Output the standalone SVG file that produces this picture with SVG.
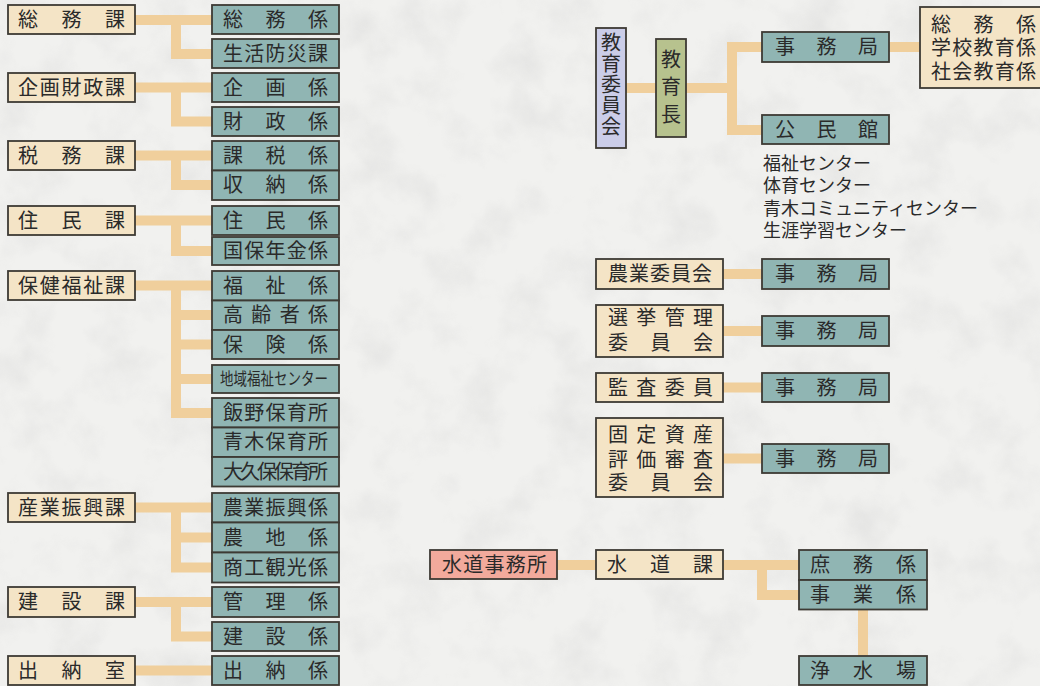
<svg xmlns="http://www.w3.org/2000/svg" width="1040" height="686" viewBox="0 0 1040 686">
<style>
.bg{fill:#f1f1ef}
.bx{stroke:#3d3a34;stroke-width:1.8}
.cr{fill:#f4e4c6}
.tl{fill:#90b5b3}
.lv{fill:#cbcde8}
.ol{fill:#b7c28e}
.pk{fill:#f2aa9c}
.cn{fill:none;stroke:#f0cf9c;stroke-width:10;stroke-linecap:butt;stroke-linejoin:miter}
text{font-family:"Noto Sans CJK JP","Noto Sans CJK SC",sans-serif;font-size:20px;fill:#2a2a2a}
.sm{font-size:17px}
.pl{font-size:18px}
.vt{writing-mode:vertical-rl}
</style>
<defs>
<filter id="marble" x="0" y="0" width="100%" height="100%">
<feTurbulence type="fractalNoise" baseFrequency="0.02" numOctaves="4" seed="7"/>
<feColorMatrix type="matrix" values="0 0 0 0 0.6  0 0 0 0 0.6  0 0 0 0 0.6  1.1 0 0 0 -0.5"/>
</filter>
</defs>
<rect class="bg" x="0" y="0" width="1040" height="686"/>
<rect x="0" y="0" width="1040" height="686" filter="url(#marble)" opacity="0.6"/>

<g id="connectors">
<path class="cn" d="M135 20H212M176 20V54H212"/>
<path class="cn" d="M135 87.5H212M176 87.5V121.5H212"/>
<path class="cn" d="M135 155.5H212M176 155.5V185H212"/>
<path class="cn" d="M135 220.5H212M176 220.5V251H212"/>
<path class="cn" d="M135 285.5H212M176 285.5V413H212M176 315H212M176 344.5H212M176 379H212"/>
<path class="cn" d="M135 507.5H212M176 507.5V567.5H212M176 537.5H212"/>
<path class="cn" d="M135 602H212M176 602V636.5H212"/>
<path class="cn" d="M135 670.5H212"/>
<path class="cn" d="M626 88H656M686 88H732M732 47V130M727 47H762M727 130H762"/>
<path class="cn" d="M889 47H920"/>
<path class="cn" d="M723 274H762"/>
<path class="cn" d="M723 331H762"/>
<path class="cn" d="M723 387.5H762"/>
<path class="cn" d="M723 458.5H762"/>
<path class="cn" d="M557 565H596"/>
<path class="cn" d="M723 565H799M762 565V595H799"/>
<path class="cn" d="M863 609V656"/>
</g>

<g id="n-somuka"><rect class="bx cr" x="8" y="5" width="127" height="29"/><text x="18" y="26.5" textLength="107" lengthAdjust="spacing">総務課</text></g>
<g id="n-somugakari"><rect class="bx tl" x="212" y="5" width="127" height="29"/><text x="223" y="26.5" textLength="105" lengthAdjust="spacing">総務係</text></g>
<g id="n-seikatsu"><rect class="bx tl" x="212" y="39" width="127" height="29"/><text x="223" y="60.5" textLength="105" lengthAdjust="spacing">生活防災課</text></g>

<g id="n-kikaku"><rect class="bx cr" x="8" y="73" width="127" height="29"/><text x="18" y="94.5" textLength="107" lengthAdjust="spacing">企画財政課</text></g>
<g id="n-kikakugakari"><rect class="bx tl" x="212" y="73" width="127" height="29"/><text x="223" y="94.5" textLength="105" lengthAdjust="spacing">企画係</text></g>
<g id="n-zaisei"><rect class="bx tl" x="212" y="107" width="127" height="29"/><text x="223" y="128.5" textLength="105" lengthAdjust="spacing">財政係</text></g>

<g id="n-zeimu"><rect class="bx cr" x="8" y="141" width="127" height="29"/><text x="18" y="162.5" textLength="107" lengthAdjust="spacing">税務課</text></g>
<g id="n-kazei"><rect class="bx tl" x="212" y="141" width="127" height="29.5"/><text x="223" y="162.5" textLength="105" lengthAdjust="spacing">課税係</text></g>
<g id="n-shuno"><rect class="bx tl" x="212" y="170.5" width="127" height="29.5"/><text x="223" y="192" textLength="105" lengthAdjust="spacing">収納係</text></g>

<g id="n-jumin"><rect class="bx cr" x="8" y="206" width="127" height="29"/><text x="18" y="227.5" textLength="107" lengthAdjust="spacing">住民課</text></g>
<g id="n-jumingakari"><rect class="bx tl" x="212" y="206" width="127" height="29"/><text x="223" y="227.5" textLength="105" lengthAdjust="spacing">住民係</text></g>
<g id="n-kokuho"><rect class="bx tl" x="212" y="237" width="127" height="28"/><text x="223" y="258" textLength="105" lengthAdjust="spacing">国保年金係</text></g>

<g id="n-hoken"><rect class="bx cr" x="8" y="271" width="127" height="29"/><text x="18" y="292.5" textLength="107" lengthAdjust="spacing">保健福祉課</text></g>
<g id="n-fukushi"><rect class="bx tl" x="212" y="271" width="127" height="29.5"/><text x="223" y="292.5" textLength="105" lengthAdjust="spacing">福祉係</text></g>
<g id="n-koreisha"><rect class="bx tl" x="212" y="300.5" width="127" height="29.5"/><text x="223" y="322" textLength="105" lengthAdjust="spacing">高齢者係</text></g>
<g id="n-hoken2"><rect class="bx tl" x="212" y="330" width="127" height="29"/><text x="223" y="351.5" textLength="105" lengthAdjust="spacing">保険係</text></g>
<g id="n-chiiki"><rect class="bx tl" x="212" y="365" width="127" height="28"/><text class="sm" x="220" y="385" textLength="108" lengthAdjust="spacingAndGlyphs">地域福祉センター</text></g>
<g id="n-iino"><rect class="bx tl" x="212" y="398" width="127" height="29.5"/><text x="223" y="419.5" textLength="105" lengthAdjust="spacing">飯野保育所</text></g>
<g id="n-aoki"><rect class="bx tl" x="212" y="427.5" width="127" height="29.5"/><text x="223" y="449" textLength="105" lengthAdjust="spacing">青木保育所</text></g>
<g id="n-okubo"><rect class="bx tl" x="212" y="457" width="127" height="29.5"/><text x="223" y="478.5" textLength="105" lengthAdjust="spacing">大久保保育所</text></g>

<g id="n-sangyo"><rect class="bx cr" x="8" y="493" width="127" height="29"/><text x="18" y="514.5" textLength="107" lengthAdjust="spacing">産業振興課</text></g>
<g id="n-nogyoshinko"><rect class="bx tl" x="212" y="493" width="127" height="29.5"/><text x="223" y="514.5" textLength="105" lengthAdjust="spacing">農業振興係</text></g>
<g id="n-nochi"><rect class="bx tl" x="212" y="522.5" width="127" height="30"/><text x="223" y="544.5" textLength="105" lengthAdjust="spacing">農地係</text></g>
<g id="n-shoko"><rect class="bx tl" x="212" y="552.5" width="127" height="30"/><text x="223" y="574.5" textLength="105" lengthAdjust="spacing">商工観光係</text></g>

<g id="n-kensetsu"><rect class="bx cr" x="8" y="587" width="127" height="30"/><text x="18" y="609" textLength="107" lengthAdjust="spacing">建設課</text></g>
<g id="n-kanri"><rect class="bx tl" x="212" y="587" width="127" height="30"/><text x="223" y="609" textLength="105" lengthAdjust="spacing">管理係</text></g>
<g id="n-kensetsugakari"><rect class="bx tl" x="212" y="622" width="127" height="29"/><text x="223" y="643.5" textLength="105" lengthAdjust="spacing">建設係</text></g>

<g id="n-suitoshitsu"><rect class="bx cr" x="8" y="656" width="127" height="29"/><text x="18" y="677.5" textLength="107" lengthAdjust="spacing">出納室</text></g>
<g id="n-suitogakari"><rect class="bx tl" x="212" y="656" width="127" height="29"/><text x="223" y="677.5" textLength="105" lengthAdjust="spacing">出納係</text></g>

<g id="n-kyoiku-iinkai"><rect class="bx lv" x="596" y="28" width="30" height="120"/>
<text class="vt" x="611" y="32" letter-spacing="1">教育委員会</text></g>
<g id="n-kyoikucho"><rect class="bx ol" x="656" y="39" width="30" height="98"/>
<text class="vt" x="671" y="49" letter-spacing="7.5">教育長</text></g>
<g id="n-jimukyoku1"><rect class="bx tl" x="762" y="32" width="127" height="30"/><text x="775" y="54" textLength="103" lengthAdjust="spacing">事務局</text></g>
<g id="n-kakari"><rect class="bx cr" x="920" y="7" width="130" height="81"/>
<text x="931" y="32" textLength="105" lengthAdjust="spacing">総務係</text>
<text x="931" y="55" textLength="105" lengthAdjust="spacing">学校教育係</text>
<text x="931" y="79" textLength="105" lengthAdjust="spacing">社会教育係</text></g>
<g id="n-kominkan"><rect class="bx tl" x="762" y="115" width="127" height="29"/><text x="775" y="136.5" textLength="103" lengthAdjust="spacing">公民館</text></g>
<g id="n-centers">
<text class="pl" x="763" y="170">福祉センター</text>
<text class="pl" x="763" y="192">体育センター</text>
<text class="pl" x="763" y="215">青木コミュニティセンター</text>
<text class="pl" x="763" y="237">生涯学習センター</text></g>

<g id="n-nogyo-iinkai"><rect class="bx cr" x="596" y="259" width="127" height="30"/><text x="608" y="281" textLength="104" lengthAdjust="spacing">農業委員会</text></g>
<g id="n-jimukyoku2"><rect class="bx tl" x="762" y="259" width="127" height="30"/><text x="775" y="281" textLength="103" lengthAdjust="spacing">事務局</text></g>
<g id="n-senkyo"><rect class="bx cr" x="596" y="305" width="127" height="52"/>
<text x="608" y="325" textLength="105" lengthAdjust="spacing">選挙管理</text>
<text x="608" y="350" textLength="105" lengthAdjust="spacing">委員会</text></g>
<g id="n-jimukyoku3"><rect class="bx tl" x="762" y="316" width="127" height="30"/><text x="775" y="338" textLength="103" lengthAdjust="spacing">事務局</text></g>
<g id="n-kansa"><rect class="bx cr" x="596" y="373" width="127" height="29"/><text x="608" y="394.5" textLength="105" lengthAdjust="spacing">監査委員</text></g>
<g id="n-jimukyoku4"><rect class="bx tl" x="762" y="373" width="127" height="29"/><text x="775" y="394.5" textLength="103" lengthAdjust="spacing">事務局</text></g>
<g id="n-kotei"><rect class="bx cr" x="596" y="418" width="127" height="79"/>
<text x="608" y="442" textLength="105" lengthAdjust="spacing">固定資産</text>
<text x="608" y="467" textLength="105" lengthAdjust="spacing">評価審査</text>
<text x="608" y="490" textLength="105" lengthAdjust="spacing">委員会</text></g>
<g id="n-jimukyoku5"><rect class="bx tl" x="762" y="444" width="127" height="29"/><text x="775" y="465.5" textLength="103" lengthAdjust="spacing">事務局</text></g>

<g id="n-suido-jimusho"><rect class="bx pk" x="430" y="550" width="127" height="29"/><text x="442" y="571.5" textLength="105" lengthAdjust="spacing">水道事務所</text></g>
<g id="n-suidoka"><rect class="bx cr" x="596" y="550" width="127" height="29"/><text x="607" y="571.5" textLength="106" lengthAdjust="spacing">水道課</text></g>
<g id="n-shomu"><rect class="bx tl" x="799" y="550" width="128" height="30"/><text x="810" y="572" textLength="106" lengthAdjust="spacing">庶務係</text></g>
<g id="n-jigyo"><rect class="bx tl" x="799" y="580" width="128" height="29.5"/><text x="810" y="602" textLength="106" lengthAdjust="spacing">事業係</text></g>
<g id="n-josuijo"><rect class="bx tl" x="799" y="656" width="128" height="29"/><text x="810" y="677.5" textLength="106" lengthAdjust="spacing">浄水場</text></g>
</svg>
